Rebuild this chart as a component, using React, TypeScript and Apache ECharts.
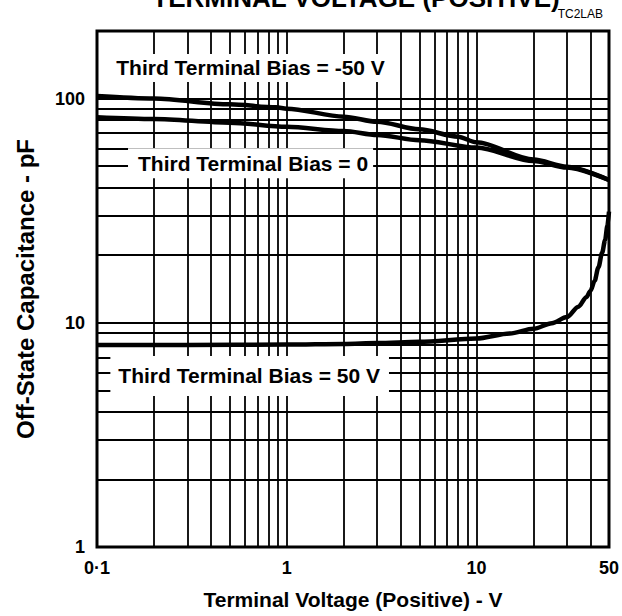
import React, { useEffect, useRef } from "react";
import * as echarts from "echarts";

// Grid (minor + major) lines of the log-log paper
const xGridValues = [0.2, 0.3, 0.4, 0.5, 0.6, 0.7, 0.8, 0.9, 1, 2, 3, 4, 5, 6, 7, 8, 9, 10, 20, 30, 40];
const yGridValues = [2, 3, 4, 5, 6, 7, 8, 9, 10, 20, 30, 40, 50, 60, 70, 80, 90, 100];

// Third Terminal Bias = -50 V
const voltageNeg50 = [0.1, 0.2, 0.5, 0.88, 1, 2, 3, 5, 8, 10, 20, 30, 50];
const capNeg50 = [102.6, 100, 94.2, 91.3, 90.1, 83.0, 78.8, 72.9, 67.6, 63.8, 53.4, 49.6, 43.3];

// Third Terminal Bias = 0
const voltageZero = [0.1, 0.2, 0.5, 1, 2, 3, 5, 10, 20, 30, 50];
const capZero = [82.5, 81.0, 78.0, 74.8, 71.6, 68.7, 65.2, 60.4, 52.6, 49.2, 43.3];

// Third Terminal Bias = 50 V
const voltagePos50 = [0.1, 0.3, 1, 2, 3, 5, 10, 15, 20, 25, 30, 34.5, 38, 40, 42, 44, 46, 47.7, 49, 50];
const capPos50 = [7.95, 7.95, 8.0, 8.05, 8.12, 8.22, 8.5, 8.95, 9.4, 9.95, 10.6, 11.8, 13.0, 13.9, 15.4, 17.7, 20.5, 23.4, 27, 31.3];

// In-plot annotations (data coordinates)
const noteTexts = ["Third Terminal Bias = -50 V", "Third Terminal Bias = 0", "Third Terminal Bias = 50 V"];
const noteX = [0.645, 0.645, 0.638];
const noteY = [136.8, 51.5, 5.79];

const FONT = "'Liberation Sans', Arial, Helvetica, sans-serif";

function pairs(xs: number[], ys: number[]) {
  return xs.map((x, i) => [x, ys[i]]);
}

export default function App() {
  const ref = useRef<HTMLDivElement>(null);

  useEffect(() => {
    if (!ref.current) return;
    const chart = echarts.init(ref.current, undefined, { renderer: "svg" });

    const curveStyle = { color: "#000", width: 4.5 };

    const option: any = {
      animation: false,
      backgroundColor: "#fff",
      textStyle: { fontFamily: FONT, color: "#000" },
      grid: {
        left: 97,
        right: 12,
        top: 31,
        bottom: 69,
        show: true,
        borderColor: "#000",
        borderWidth: 3,
        backgroundColor: "transparent",
      },
      xAxis: {
        type: "log",
        logBase: 10,
        min: 0.1,
        max: 50,
        name: "Terminal Voltage (Positive) - V",
        nameLocation: "middle",
        nameGap: 42,
        nameTextStyle: { fontSize: 21, fontWeight: "bold", color: "#000", fontFamily: FONT },
        axisLine: { show: false },
        axisTick: { show: false },
        splitLine: { show: false },
        axisLabel: {
          margin: 12,
          fontSize: 18,
          fontWeight: "bold",
          color: "#000",
          fontFamily: FONT,
          showMinLabel: true,
          showMaxLabel: true,
          formatter: (v: number) => {
            if (Math.abs(v - 0.1) < 1e-9) return "0\u00b71";
            return String(Math.round(v));
          },
        },
      },
      yAxis: {
        type: "log",
        logBase: 10,
        min: 1,
        max: 200,
        name: "Off-State Capacitance - pF",
        nameLocation: "middle",
        nameGap: 60,
        nameTextStyle: { fontSize: 24, fontWeight: "bold", color: "#000", fontFamily: FONT },
        axisLine: { show: false },
        axisTick: { show: false },
        splitLine: { show: false },
        axisLabel: {
          margin: 12,
          fontSize: 18,
          fontWeight: "bold",
          color: "#000",
          fontFamily: FONT,
          formatter: (v: number) => {
            const r = Math.round(v);
            return r === 1 || r === 10 || r === 100 ? String(r) : "";
          },
        },
      },
      graphic: [
        {
          type: "text",
          x: 356,
          y: -2,
          style: {
            text: "TERMINAL VOLTAGE (POSITIVE)",
            fontSize: 26,
            fontWeight: "bold",
            fontFamily: FONT,
            fill: "#000",
            textAlign: "center",
            textVerticalAlign: "middle",
          },
        },
        {
          type: "text",
          right: 19,
          top: 8,
          style: {
            text: "TC2LAB",
            fontSize: 12,
            fontFamily: FONT,
            fill: "#000",
          },
        },
      ],
      series: [
        {
          type: "line",
          name: "grid",
          data: [],
          z: 1,
          silent: true,
          markLine: {
            z: 1,
            silent: true,
            symbol: ["none", "none"],
            label: { show: false },
            lineStyle: { color: "#000", width: 1.8, type: "solid", opacity: 1 },
            emphasis: { disabled: true },
            data: [
              ...xGridValues.map((v) => ({ xAxis: v })),
              ...yGridValues.map((v) => ({ yAxis: v })),
            ],
          },
        },
        {
          type: "line",
          name: "Third Terminal Bias = -50 V",
          data: pairs(voltageNeg50, capNeg50),
          showSymbol: false,
          smooth: 0.3,
          smoothMonotone: "x",
          lineStyle: curveStyle,
          z: 3,
        },
        {
          type: "line",
          name: "Third Terminal Bias = 0",
          data: pairs(voltageZero, capZero),
          showSymbol: false,
          smooth: 0.3,
          smoothMonotone: "x",
          lineStyle: curveStyle,
          z: 3,
        },
        {
          type: "line",
          name: "Third Terminal Bias = 50 V",
          data: pairs(voltagePos50, capPos50),
          showSymbol: false,
          smooth: 0.3,
          smoothMonotone: "x",
          lineStyle: curveStyle,
          z: 3,
        },
        {
          type: "scatter",
          name: "notes",
          z: 8,
          silent: true,
          symbolSize: 1,
          itemStyle: { color: "#fff", opacity: 1 },
          data: noteTexts.map((t, i) => ({
            name: t,
            value: [noteX[i], noteY[i]],
            label: {
              padding: i === 0 ? [3, 10, 3, 10] : i === 1 ? [4, 5, 4, 10] : [9, 9, 9, 8],
            },
          })),
          label: {
            show: true,
            position: "inside",
            formatter: (p: any) => p.name,
            fontSize: 21,
            lineHeight: 22,
            fontWeight: "bold",
            fontFamily: FONT,
            color: "#000",
            opacity: 1,
            backgroundColor: "#ffffff",
          },
        },
      ],
    };

    chart.setOption(option);
    return () => chart.dispose();
  }, []);

  return (
    <div
      ref={ref}
      style={{ position: "fixed", left: 0, top: 0, width: 622, height: 616, background: "#fff" }}
    />
  );
}
